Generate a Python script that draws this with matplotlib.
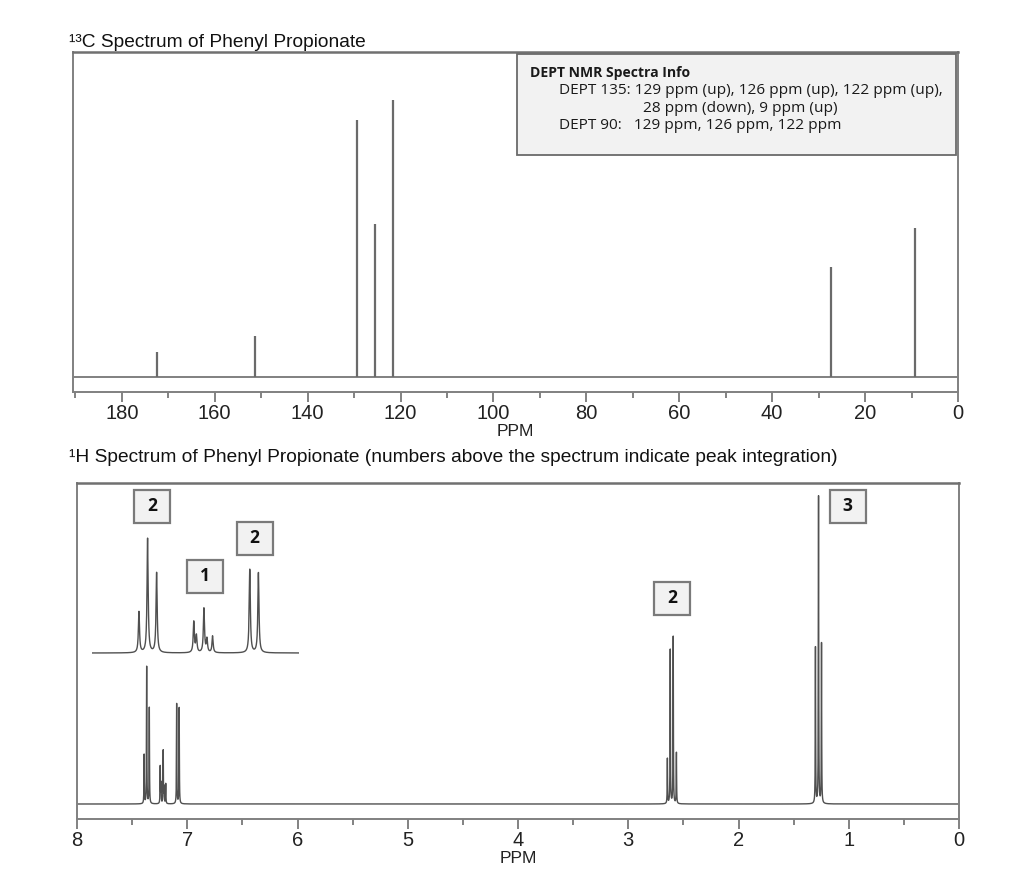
import matplotlib
matplotlib.use('Agg')
import matplotlib.pyplot as plt
from matplotlib.patches import Rectangle
import numpy as np

# 13C spectrum: line positions (ppm) and heights
c13_ppm = [172.4, 151.3, 129.3, 125.6, 121.6, 27.4, 9.3]
c13_height = [25, 41, 257, 153, 277, 110, 149]

# 1H spectrum: individual multiplet lines (ppm) and heights
h1_ppm = [7.391, 7.368, 7.344,
          7.245, 7.238, 7.218, 7.210, 7.195,
          7.096, 7.073,
          2.645, 2.619, 2.592, 2.563,
          1.302, 1.274, 1.247]
h1_height = [49, 137, 96,
             37, 20, 53, 16, 20,
             100, 96,
             45, 154, 167, 51,
             156, 307, 160]

# integration values shown above the peaks
integ_txt = ['2', '1', '2', '2', '3']

dept_title = 'DEPT NMR Spectra Info'
dept_lines = ['DEPT 135: 129 ppm (up), 126 ppm (up), 122 ppm (up),',
              '28 ppm (down), 9 ppm (up)',
              'DEPT 90:   129 ppm, 126 ppm, 122 ppm']

W, H = 1024, 881
SANS = ['Liberation Sans', 'DejaVu Sans']
BOXFONT = ['Open Sans', 'DejaVu Sans']
LINE = '#505050'
FRAME = '#808080'


def fx(x):
    return x / W


def fy(y):
    return 1 - y / H


def spectrum(x, ppm, height, width=0.0018):
    y = np.zeros_like(x)
    for p, h in zip(ppm, height):
        y += h * width**2 / ((x - p)**2 + width**2)
    return y


def style_axis(ax, major, minor):
    for s in ax.spines.values():
        s.set_color(FRAME)
        s.set_linewidth(1.4)
    ax.spines['top'].set_color('#707070')
    ax.spines['top'].set_linewidth(1.8)
    ax.set_xticks(major)
    ax.set_xticks(minor, minor=True)
    ax.set_yticks([])
    ax.tick_params(axis='x', which='major', direction='out', length=7,
                   width=1.1, color='#606060', pad=1.5, labelsize=14.5,
                   labelcolor='#222222')
    ax.tick_params(axis='x', which='minor', direction='out', length=4,
                   width=1.1, color='#606060')
    for lab in ax.get_xticklabels():
        lab.set_fontfamily(SANS)


fig = plt.figure(figsize=(W / 100, H / 100), dpi=100)

# ---- 13C panel
ax1 = fig.add_axes([fx(73), fy(392), fx(958 - 73), (392 - 52) / H])
ax1.set_xlim(190.5, 0)
ax1.set_ylim(-15, 325)
ax1.axhline(0, color=FRAME, lw=1.4)
ax1.vlines(c13_ppm, 0, c13_height, color='#6a6a6a', lw=1.6)
style_axis(ax1, np.arange(0, 181, 20), np.arange(10, 191, 20))
ax1.set_xlabel('PPM', fontsize=12.5, family=SANS, color='#222222', labelpad=0.5)

fig.text(fx(69), fy(47), '\u00b9\u00b3C Spectrum of Phenyl Propionate',
         fontsize=13.8, family=SANS, color='#111111')

# DEPT info box
fig.add_artist(Rectangle((fx(517), fy(155)), fx(956 - 517), (155 - 54) / H,
                         transform=fig.transFigure, facecolor='#f2f2f2',
                         edgecolor='#6a6a6a', lw=1.3))
fig.text(fx(530), fy(77), dept_title, fontsize=10.1, family=BOXFONT,
         weight='bold', color='#1a1a1a')
fig.text(fx(559), fy(94), dept_lines[0], fontsize=11.1, family=BOXFONT, color='#1a1a1a')
fig.text(fx(643), fy(111.5), dept_lines[1], fontsize=11.1, family=BOXFONT, color='#1a1a1a')
fig.text(fx(559), fy(129), dept_lines[2], fontsize=11.1, family=BOXFONT, color='#1a1a1a')

# ---- 1H panel
fig.text(fx(69), fy(462), '\u00b9H Spectrum of Phenyl Propionate (numbers above the '
         'spectrum indicate peak integration)', fontsize=13.8, family=SANS,
         color='#111111')

ax2 = fig.add_axes([fx(77), fy(819), fx(959 - 77), (819 - 483) / H])
ax2.set_xlim(8, 0)
ax2.set_ylim(-15, 321)
x = np.linspace(0, 8, 80001)
ax2.plot(x, spectrum(x, h1_ppm, h1_height), color=LINE, lw=1.0)
style_axis(ax2, np.arange(0, 9, 1), np.arange(0.5, 8, 1))
ax2.set_xlabel('PPM', fontsize=12.5, family=SANS, color='#222222', labelpad=1)

# integration boxes (centre ppm, centre height)
box_pos = [(7.32, 298), (6.84, 228), (6.39, 266), (2.60, 206), (1.01, 298)]
bw = 36 / 110.25
bh = 33
for (px, py), t in zip(box_pos, integ_txt):
    ax2.add_patch(Rectangle((px + bw / 2, py - bh / 2), -bw, bh,
                            facecolor='#f2f2f2', edgecolor='#7a7a7a', lw=1.6,
                            zorder=3))
    ax2.text(px, py, t, ha='center', va='center', fontsize=12.5,
             family=BOXFONT, weight='bold', color='#111111', zorder=4)

# expanded aromatic region
ax3 = fig.add_axes([fx(92), fy(658), fx(299 - 92), 130 / H])
ax3.set_xlim(7.516, 6.965)
ax3.set_ylim(-6, 150)
xi = np.linspace(6.965, 7.516, 20001)
ax3.plot(xi, spectrum(xi, h1_ppm, h1_height), color=LINE, lw=1.0)
ax3.axis('off')

fig.savefig('out.png', dpi=100)
